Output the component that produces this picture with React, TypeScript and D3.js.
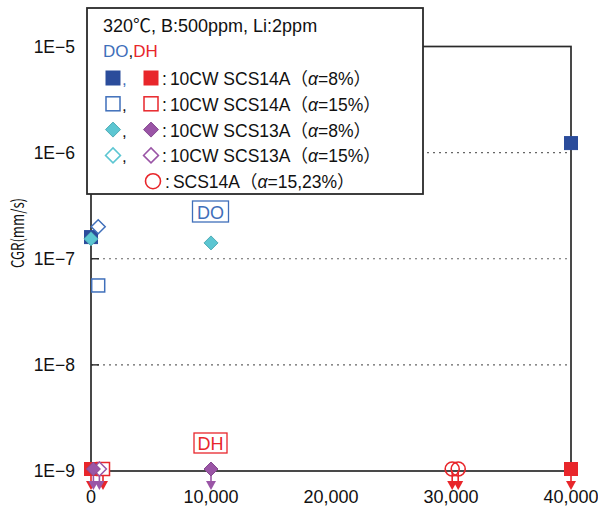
import React from 'react';
import * as d3 from 'd3';

// DO data (measured crack growth rate)
const doSq8X = [0, 40000];
const doSq8Y = [1.6e-7, 1.23e-6];
const doSq15X = [600];
const doSq15Y = [5.6e-8];
const doDi8X = [0, 10000];
const doDi8Y = [1.54e-7, 1.41e-7];
const doDi15X = [600];
const doDi15Y = [2.0e-7];

// DH data (no growth -> plotted at detection limit with arrow)
const dhLimit = 1e-9;
const dhSq8X = [0, 40000];
const dhSq15X = [1000];
const dhDi8X = [200, 10000];
const dhDi15X = [700];
const dhCircX = [30100, 30600];

const xTicks = [0, 10000, 20000, 30000, 40000];
const yTicks = [1e-9, 1e-8, 1e-7, 1e-6, 1e-5];
const yTickLabels = ['1E\u22129', '1E\u22128', '1E\u22127', '1E\u22126', '1E\u22125'];
const gridTicks = [1e-8, 1e-7, 1e-6];

const C = {
  navy: '#2b4c9b',
  blue: '#3f6fba',
  cyan: '#5cc6d2',
  purple: '#9a55a6',
  red: '#e8262b',
  axis: '#2a2a2a',
};

const FONT = "'Liberation Sans', 'Noto Sans CJK JP', sans-serif";

function Marker(props) {
  const { type, x, y, color, filled, size = 13 } = props;
  const s = size;
  const fill = filled ? color : 'white';
  const sw = filled ? 1 : 1.5;
  if (type === 'square') {
    return <rect x={x - s / 2} y={y - s / 2} width={s} height={s} fill={fill} stroke={color} strokeWidth={sw} />;
  }
  if (type === 'diamond') {
    const r = s / 2 + 0.5;
    return <path d={`M${x},${y - r}L${x + r},${y}L${x},${y + r}L${x - r},${y}Z`} fill={fill} stroke={filled ? d3.color(color).darker(0.4).toString() : color} strokeWidth={sw} />;
  }
  return <circle cx={x} cy={y} r={s / 2} fill="none" stroke={color} strokeWidth={1.6} />;
}

function Arrow(props) {
  const { x, y, color } = props;
  return (
    <g>
      <line x1={x} x2={x} y1={y} y2={y + 11} stroke={color} strokeWidth={1.6} />
      <path d={`M${x - 5},${y + 10}L${x + 5},${y + 10}L${x},${y + 19}Z`} fill={color} />
    </g>
  );
}

export default function App() {
  const width = 598;
  const height = 508;
  const left = 91, right = 571, top = 46.5, bottom = 471;

  const xScale = d3.scaleLinear().domain([0, 40000]).range([left, right]);
  const yScale = d3.scaleLog().domain([1e-9, 1e-5]).range([bottom, top]);

  const doSeries = [
    { xs: doSq8X, ys: doSq8Y, type: 'square', color: C.navy, filled: true },
    { xs: doSq15X, ys: doSq15Y, type: 'square', color: C.blue, filled: false },
    { xs: doDi15X, ys: doDi15Y, type: 'diamond', color: C.blue, filled: false },
    { xs: doDi8X, ys: doDi8Y, type: 'diamond', color: C.cyan, filled: true },
  ];
  const dhSeries = [
    { xs: dhSq15X, type: 'square', color: C.red, filled: false },
    { xs: dhSq8X, type: 'square', color: C.red, filled: true },
    { xs: dhDi15X, type: 'diamond', color: C.purple, filled: false },
    { xs: dhDi8X, type: 'diamond', color: C.purple, filled: true },
    { xs: dhCircX, type: 'circle', color: C.red, filled: false },
  ];

  const legendRows = [
    { a: { type: 'square', color: C.navy, filled: true }, b: { type: 'square', color: C.red, filled: true }, label: '10CW SCS14A', alpha: '8%' },
    { a: { type: 'square', color: C.blue, filled: false }, b: { type: 'square', color: C.red, filled: false }, label: '10CW SCS14A', alpha: '15%' },
    { a: { type: 'diamond', color: C.cyan, filled: true }, b: { type: 'diamond', color: C.purple, filled: true }, label: '10CW SCS13A', alpha: '8%' },
    { a: { type: 'diamond', color: C.cyan, filled: false }, b: { type: 'diamond', color: C.purple, filled: false }, label: '10CW SCS13A', alpha: '15%' },
    { a: null, b: { type: 'circle', color: C.red, filled: false }, label: 'SCS14A', alpha: '15,23%' },
  ];

  return (
    <svg width={width} height={height} style={{ position: 'absolute', left: 0, top: 0 }} fontFamily={FONT}>
      <rect width={width} height={height} fill="white" />

      {/* grid */}
      {gridTicks.map(t => (
        <line key={t} x1={left} x2={right} y1={yScale(t)} y2={yScale(t)} stroke="#666" strokeWidth={1.2} strokeDasharray="2,4" />
      ))}

      {/* frame */}
      <rect x={left} y={top} width={right - left} height={bottom - top} fill="none" stroke={C.axis} strokeWidth={1.7} />

      {/* y ticks */}
      {yTicks.map((t, i) => (
        <g key={t}>
          <line x1={left} x2={left + 8} y1={yScale(t)} y2={yScale(t)} stroke={C.axis} strokeWidth={1.4} />
          <text x={75} y={yScale(t)} dy="0.36em" textAnchor="end" fontSize={17.5} fill="#111">{yTickLabels[i]}</text>
        </g>
      ))}
      <text transform={`translate(24, 233) rotate(-90)`} textAnchor="middle" fontSize={17} fill="#111"
        fontFamily="'Noto Sans CJK JP', sans-serif" textLength={70} lengthAdjust="spacingAndGlyphs">CGR(mm/s)</text>

      {/* x tick labels */}
      {xTicks.map(t => (
        <text key={t} x={xScale(t)} y={503} textAnchor="middle" fontSize={18} fill="#111">{d3.format(',')(t)}</text>
      ))}

      {/* DO points */}
      {doSeries.map((s, si) => s.xs.map((xv, i) => (
        <Marker key={`do${si}-${i}`} type={s.type} x={xScale(xv)} y={yScale(s.ys[i])} color={s.color} filled={s.filled} />
      )))}

      {/* DH points with arrows */}
      {dhSeries.map((s, si) => s.xs.map((xv, i) => (
        <Arrow key={`dha${si}-${i}`} x={xScale(xv)} y={yScale(dhLimit)} color={s.color} />
      )))}
      {dhSeries.map((s, si) => s.xs.map((xv, i) => (
        <Marker key={`dh${si}-${i}`} type={s.type} x={xScale(xv)} y={yScale(dhLimit) - 2} color={s.color} filled={s.filled} size={s.type === 'circle' ? 14 : 13} />
      )))}

      {/* DO / DH tags */}
      <rect x={192.5} y={201} width={36} height={21} fill="white" stroke={C.blue} strokeWidth={1.3} />
      <text x={210.5} y={218.5} textAnchor="middle" fontSize={18} fill={C.blue}>DO</text>
      <rect x={194} y={433} width={33} height={20} fill="white" stroke={C.red} strokeWidth={1.3} />
      <text x={210.5} y={450} textAnchor="middle" fontSize={18} fill={C.red}>DH</text>

      {/* legend */}
      <g>
        <rect x={87} y={8} width={336} height={186} fill="white" stroke={C.axis} strokeWidth={1.8} />
        <text x={103} y={32} fontSize={18} fill="#111">320℃, B:500ppm, Li:2ppm</text>
        <text x={103} y={57} fontSize={17}>
          <tspan fill={C.blue}>DO</tspan><tspan fill="#111">,</tspan><tspan fill={C.red}>DH</tspan>
        </text>
        {legendRows.map((r, i) => {
          const cy = 78 + i * 25.8;
          const isCirc = r.b.type === 'circle';
          return (
            <g key={i}>
              {r.a && <Marker type={r.a.type} x={113} y={cy} color={r.a.color} filled={r.a.filled} size={14} />}
              {r.a && <text x={122} y={cy + 7} fontSize={17} fill={i === 0 ? C.blue : '#111'}>,</text>}
              <Marker type={r.b.type} x={isCirc ? 153 : 151} y={cy} color={r.b.color} filled={r.b.filled} size={isCirc ? 15 : 14} />
              <text x={isCirc ? 165 : 162} y={cy + 7} fontSize={17.5} fill="#111">
                :<tspan dx={3}>{r.label}</tspan>（<tspan fontStyle="italic">α</tspan>={r.alpha}）
              </text>
            </g>
          );
        })}
      </g>
    </svg>
  );
}
